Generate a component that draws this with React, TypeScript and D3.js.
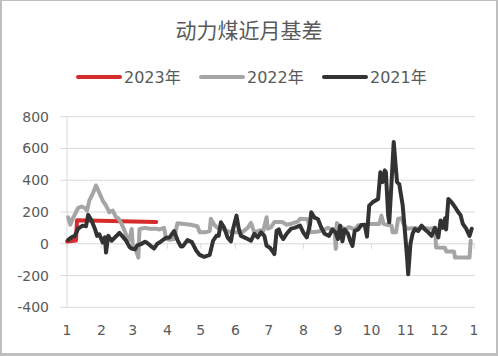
import React from 'react';
import * as d3 from 'd3';

const title = '动力煤近月基差';
const seriesNames = ['2023年', '2022年', '2021年'];
const seriesColors = ['#D42B2B', '#A5A5A5', '#333333'];
const monthLabels = ['1', '2', '3', '4', '5', '6', '7', '8', '9', '10', '11', '12', '1'];
const yTicks = [-400, -200, 0, 200, 400, 600, 800];

const dates2023 = ['01-01', '01-09', '01-10', '01-20', '02-10', '03-01', '03-22'];
const values2023 = [15, 20, 148, 147, 144, 140, 137];

const dates2022 = ['01-02', '01-04', '01-06', '01-11', '01-14', '01-17', '01-19', '01-21', '01-24', '01-27', '01-30',
  '02-02', '02-05', '02-08', '02-11', '02-14', '02-16', '02-19', '02-21', '02-24', '02-26', '02-28',
  '03-01', '03-04', '03-06', '03-07', '03-12', '03-16', '03-22', '03-25', '03-29', '03-31',
  '04-03', '04-07', '04-10', '04-16', '04-22', '04-28', '04-30',
  '05-05', '05-09', '05-10', '05-13', '05-16', '05-20', '05-23', '05-27',
  '06-01', '06-07', '06-12', '06-15', '06-18', '06-23', '06-26', '06-29', '06-30',
  '07-03', '07-06', '07-13', '07-17', '07-22', '07-27', '07-29',
  '08-05', '08-07', '08-13', '08-16', '08-20', '08-23', '08-26', '08-29', '08-30', '08-31',
  '09-02', '09-07', '09-11', '09-16', '09-19', '09-22', '09-27', '09-29',
  '10-08', '10-10', '10-12', '10-15', '10-19', '10-20', '10-23', '10-25', '10-28', '10-30',
  '11-02', '11-09', '11-13', '11-18', '11-22', '11-27', '11-28',
  '12-06', '12-07', '12-14', '12-15', '12-28', '12-29'];
const values2022 = [166, 120, 156, 225, 235, 225, 209, 272, 314, 367, 320,
  272, 240, 198, 209, 167, 160, 124, 93, 40, 25, 93,
  -13, -44, -87, 93, 100, 95, 95, 90, 100, 30,
  25, 30, 129, 125, 120, 110, 72,
  72, 80, 158, 120, 100, 95, 85, 75,
  72, 72, 100, 131, 72, 85, 80, 167, 95,
  105, 137, 137, 120, 128, 140, 158,
  155, 72, 75, 80, 90, 100, 90, 95, -32, 130,
  115, 90, 105, 90, 115, 118, 120, 125,
  125, 177, 125, 120, 114, 72, 72, 158, 160, 120,
  95, 100, 95, 100, 95, 100, -23,
  -25, -48, -48, -87, -87, 19];

const dates2021 = ['01-02', '01-05', '01-08', '01-11', '01-13', '01-15', '01-18', '01-20', '01-23', '01-26', '01-28', '01-30',
  '02-02', '02-04', '02-05', '02-07', '02-10', '02-13', '02-17', '02-20', '02-23', '02-26', '02-28',
  '03-03', '03-05', '03-09', '03-12', '03-14', '03-17', '03-20', '03-23', '03-26', '03-31',
  '04-03', '04-07', '04-10', '04-13', '04-15', '04-19', '04-23', '04-27', '04-30',
  '05-04', '05-09', '05-12', '05-15', '05-17', '05-19', '05-22', '05-25', '05-28', '05-30',
  '06-02', '06-04', '06-06', '06-09', '06-12', '06-15', '06-18', '06-21', '06-24', '06-27', '06-29',
  '07-02', '07-04', '07-06', '07-08', '07-10', '07-12', '07-14', '07-17', '07-21', '07-24', '07-29',
  '08-01', '08-04', '08-07', '08-08', '08-11', '08-14', '08-17', '08-20', '08-24', '08-27', '08-30',
  '09-01', '09-03', '09-05', '09-07', '09-10', '09-12', '09-14', '09-16', '09-19', '09-22', '09-25', '09-27', '09-29',
  '10-02', '10-07', '10-09', '10-11', '10-13', '10-14', '10-16', '10-17', '10-19', '10-21', '10-23', '10-24', '10-26', '10-27', '10-29', '10-31',
  '11-02', '11-03', '11-05', '11-07', '11-09', '11-12', '11-15', '11-18', '11-21', '11-24', '11-27', '11-30',
  '12-02', '12-04', '12-06', '12-07', '12-09', '12-12', '12-15', '12-18', '12-20', '12-22', '12-25', '12-28', '12-30'];
const values2021 = [25, 40, 50, 95, 105, 114, 110, 182, 146, 95, 50, 60,
  8, 40, -55, 50, 19, 40, 68, 45, 20, -20, -30,
  -35, -10, 0, 13, 5, -13, -30, 0, 13, 38,
  40, 80, 25, -17, -15, 23, 10, -44, -70,
  -82, -70, 19, 50, 50, 135, 100, 40, 15, 95,
  177, 95, 50, 40, 30, 19, 63, 40, 72, 50, -13,
  -25, -44, -65, 82, 90, 50, 30, 63, 95, 100, 114,
  70, 40, 125, 198, 165, 156, 103, 63, 50, 90, 70,
  30, 114, 15, 90, 63, 19, -13, 80, 90, 118, 120, 45, 240,
  261, 282, 451, 388, 462, 450, 180, 135, 380, 641, 470, 388, 375, 330, 245, 82,
  -87, -192, 0, 65, 93, 80, 114, 90, 72, 50, 100, 40,
  146, 100, 160, 90, 282, 261, 230, 198, 180, 125, 95, 50, 95];

const parseDay = (s: string) => {
  const [m, d] = s.split('-').map(Number);
  return new Date(Date.UTC(2021, m - 1, d));
};

export default function App() {
  const W = 498, H = 356;
  const x = d3.scaleUtc()
    .domain([new Date(Date.UTC(2021, 0, 1)), new Date(Date.UTC(2022, 0, 1))])
    .range([67, 474]);
  const y = d3.scaleLinear().domain([-400, 800]).range([307.3, 116.7]);
  const line = d3.line<[Date, number]>()
    .x(d => x(d[0]))
    .y(d => y(d[1]));

  const series: [Date, number][][] = [
    dates2023.map((d, i) => [parseDay(d), values2023[i]]),
    dates2022.map((d, i) => [parseDay(d), values2022[i]]),
    dates2021.map((d, i) => [parseDay(d), values2021[i]]),
  ];
  const monthTicks = monthLabels.map((_, i) => new Date(Date.UTC(2021, i, 1)));
  const legendX = [78, 201, 324];
  const font = '"DejaVu Sans", "Noto Sans CJK SC", sans-serif';

  return (
    <svg width={W} height={H} style={{ position: 'absolute', left: 0, top: 0, display: 'block' }}>
      <rect x={0} y={0} width={W} height={H} fill="#BFBFBF" />
      <rect x={2} y={1} width={494} height={352} fill="#FFFFFF" />
      <text x={249} y={38} textAnchor="middle" fontSize={21} fill="#595959"
        fontFamily='"Noto Sans CJK SC", sans-serif'>{title}</text>

      {seriesNames.map((name, i) => (
        <g key={name}>
          <line x1={legendX[i]} x2={legendX[i] + 42} y1={77} y2={77} stroke={seriesColors[i]}
            strokeWidth={4} strokeLinecap="round" />
          <text x={legendX[i] + 46} y={82.5} fontSize={16} fill="#595959" fontFamily={font}>{name}</text>
        </g>
      ))}

      {yTicks.map(t => (
        <g key={t}>
          <line x1={60} x2={475} y1={y(t)} y2={y(t)} stroke="#D9D9D9" strokeWidth={1} />
          <text x={49} y={y(t) + 5} textAnchor="end" fontSize={14} fill="#595959" fontFamily={font}>{t}</text>
        </g>
      ))}
      <line x1={67} x2={67} y1={y(800)} y2={y(-400)} stroke="#D9D9D9" strokeWidth={1} />
      {monthTicks.map((d, i) => (
        <g key={i}>
          <line x1={x(d)} x2={x(d)} y1={y(0)} y2={y(0) + 5} stroke="#D9D9D9" strokeWidth={1} />
          <text x={x(d)} y={335} textAnchor="middle" fontSize={14} fill="#595959" fontFamily={font}>{monthLabels[i]}</text>
        </g>
      ))}

      {series.map((s, i) => (
        <path key={i} d={line(s) || ''} fill="none" stroke={seriesColors[i]} strokeWidth={4}
          strokeLinejoin="round" strokeLinecap="round" />
      ))}
    </svg>
  );
}
